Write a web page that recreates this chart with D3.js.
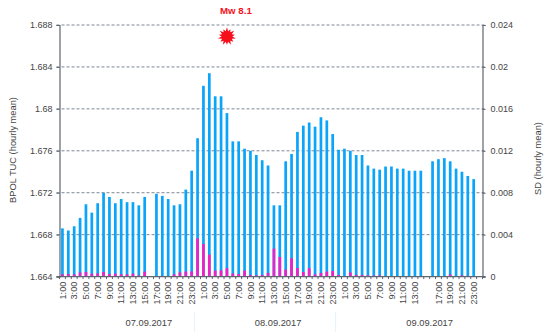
<!DOCTYPE html>
<html>
<head>
<meta charset="utf-8">
<script src="https://cdn.jsdelivr.net/npm/d3@7"></script>
<style>
  html, body { margin: 0; padding: 0; background: #fff; }
  text { font-family: "Liberation Sans", Arial, sans-serif; fill: #444; }
</style>
</head>
<body>
<script>
const hourLabels = [
  "1:00","2:00","3:00","4:00","5:00","6:00","7:00","8:00","9:00","10:00","11:00","12:00","13:00","14:00","15:00","16:00","17:00","18:00","19:00","20:00","21:00","22:00","23:00","0:00",
  "1:00","2:00","3:00","4:00","5:00","6:00","7:00","8:00","9:00","10:00","11:00","12:00","13:00","14:00","15:00","16:00","17:00","18:00","19:00","20:00","21:00","22:00","23:00","0:00",
  "1:00","2:00","3:00","4:00","5:00","6:00","7:00","8:00","9:00","10:00","11:00","12:00","13:00","14:00","15:00","16:00","17:00","18:00","19:00","20:00","21:00","22:00","23:00","0:00"
];
// null = no measurement that hour
const tucValues = [
  1.6686,1.6684,1.6688,1.6696,1.6709,1.6701,1.6710,1.6720,1.6716,1.6710,1.6714,1.6711,1.6711,1.6708,1.6716,null,1.6719,1.6717,1.6714,1.6708,1.6709,1.6723,1.6741,1.6772,
  1.6822,1.6834,1.6812,1.6812,1.6796,1.6769,1.6769,1.6762,1.6760,1.6756,1.6751,1.6746,1.6708,1.6708,1.6750,1.6757,1.6778,1.6784,1.6787,1.6783,1.6792,1.6789,1.6776,1.6761,
  1.6762,1.6760,1.6756,1.6756,1.6746,1.6743,1.6742,1.6745,1.6745,1.6743,1.6743,1.6741,1.6741,1.6741,null,1.6750,1.6752,1.6753,1.6750,1.6743,1.6740,1.6736,1.6733,null
];
const sdValues = [
  .00022,.00025,.00022,.0004,.00044,.00028,.00031,.00044,.00025,.00028,.00022,.00022,.00028,.00012,.00048,0,.00006,.00006,.00002,.00022,.0004,.00048,.0005,.00365,
  .0031,.0021,.00057,.0006,.0008,.0003,.00025,.00057,.00016,.00012,.00016,.00035,.00267,.00187,.00067,.00175,.00083,.00044,.0008,.00022,.00035,.00048,.00054,.00016,
  .00005,.0004,.00016,.00016,.00012,.0001,.00012,.00005,.00003,.00003,.00002,.00005,.00002,.00002,0,.00005,.00005,.00005,.0002,.00005,.00012,.00008,.00005,0
];
const tucTicks = [1.664,1.668,1.672,1.676,1.68,1.684,1.688];
const sdTicks = [0,.004,.008,.012,.016,.02,.024];
const hiddenHourLabels = [62];
const dateLabels = ["07.09.2017","08.09.2017","09.09.2017"];
const dateSlots = [15.2,37.2,63];
const daySeparators = [23,47];
const quakeSlot = 28;
const quakeTuc = 1.6869;

const width = 550;
const height = 332;
const margin = { left: 59.5, right: 67.5, top: 25, bottom: 55.4 };
const slots = d3.range(hourLabels.length);

const svg = d3.select("body").append("svg")
  .attr("width", width)
  .attr("height", height)
  .style("display", "block");

const x = d3.scaleBand().domain(slots).range([margin.left, width - margin.right]).paddingInner(0.54).paddingOuter(0.27);
const yTuc = d3.scaleLinear().domain([1.664, 1.688]).range([height - margin.bottom, margin.top]);
const ySd = d3.scaleLinear().domain([0, 0.024]).range([height - margin.bottom, margin.top]);
const xMid = i => x(i) + x.bandwidth() / 2;
const slotEdge = i => margin.left + i * x.step();

// dashed grid
svg.append("g")
  .selectAll("line")
  .data(tucTicks.slice(1))
  .enter()
  .append("line")
  .attr("x1", margin.left - 3)
  .attr("x2", width - margin.right + 3)
  .attr("y1", d => yTuc(d))
  .attr("y2", d => yTuc(d))
  .attr("stroke", "#7d8794")
  .attr("stroke-width", 1)
  .attr("stroke-dasharray", "3,2");

// bars
svg.append("g")
  .selectAll("rect")
  .data(slots.filter(i => tucValues[i] !== null))
  .enter()
  .append("rect")
  .attr("x", i => x(i))
  .attr("width", x.bandwidth())
  .attr("y", i => yTuc(tucValues[i]))
  .attr("height", i => yTuc(1.664) - yTuc(tucValues[i]))
  .attr("fill", "#0aa5fa");

svg.append("g")
  .selectAll("rect")
  .data(slots)
  .enter()
  .append("rect")
  .attr("x", i => x(i))
  .attr("width", x.bandwidth())
  .attr("y", i => ySd(sdValues[i]))
  .attr("height", i => ySd(0) - ySd(sdValues[i]))
  .attr("fill", "#ee22c4");

// axes
const axisColor = "#5f6670";
const leftAxis = svg.append("g")
  .attr("transform", `translate(${margin.left},0)`)
  .call(d3.axisLeft(yTuc).tickValues(tucTicks).tickSize(3).tickFormat(d3.format("")));
const rightAxis = svg.append("g")
  .attr("transform", `translate(${width - margin.right},0)`)
  .call(d3.axisRight(ySd).tickValues(sdTicks).tickSize(3).tickFormat(d3.format("")));

[leftAxis, rightAxis].forEach(a => {
  a.select(".domain").attr("stroke", axisColor).attr("stroke-width", 1.2);
  a.selectAll("line").attr("stroke", axisColor);
  a.selectAll("text").style("font-size", "9px").style("font-family", "Liberation Sans").attr("fill", "#444");
});
leftAxis.selectAll("text").attr("x", -7);
rightAxis.selectAll("text").attr("x", 8);

// bottom axis line and ticks between the hours
const base = svg.append("g");
base.append("line")
  .attr("x1", margin.left - 3)
  .attr("x2", width - margin.right + 3)
  .attr("y1", yTuc(1.664))
  .attr("y2", yTuc(1.664))
  .attr("stroke", axisColor)
  .attr("stroke-width", 1.2);
base.selectAll(".hour-tick")
  .data(d3.range(hourLabels.length + 1))
  .enter()
  .append("line")
  .attr("class", "hour-tick")
  .attr("x1", i => slotEdge(i))
  .attr("x2", i => slotEdge(i))
  .attr("y1", yTuc(1.664))
  .attr("y2", yTuc(1.664) + 2.5)
  .attr("stroke", axisColor);

base.selectAll(".hour-label")
  .data(slots.filter(i => i % 2 === 0 && !hiddenHourLabels.includes(i)))
  .enter()
  .append("text")
  .attr("class", "hour-label")
  .attr("transform", i => `translate(${xMid(i) + 3.2},${yTuc(1.664) + 5}) rotate(-90)`)
  .attr("text-anchor", "end")
  .style("font-size", "9.2px")
  .text(i => hourLabels[i]);

svg.append("g")
  .selectAll("line")
  .data(daySeparators)
  .enter()
  .append("line")
  .attr("x1", i => slotEdge(i))
  .attr("x2", i => slotEdge(i))
  .attr("y1", 312)
  .attr("y2", 332)
  .attr("stroke", "#e6f3fa");

svg.append("g")
  .selectAll("text")
  .data(dateLabels)
  .enter()
  .append("text")
  .attr("x", (d, i) => slotEdge(dateSlots[i]))
  .attr("y", 326)
  .attr("text-anchor", "middle")
  .style("font-size", "9.3px")
  .text(d => d);

// axis titles
svg.append("text")
  .attr("transform", "translate(16,150) rotate(-90)")
  .attr("text-anchor", "middle")
  .style("font-size", "9.3px")
  .text("BPOL TUC (hourly mean)");
svg.append("text")
  .attr("transform", "translate(541,158.5) rotate(-90)")
  .attr("text-anchor", "middle")
  .style("font-size", "9.3px")
  .text("SD (hourly mean)");

// earthquake marker
const spikes = 14;
const star = d3.lineRadial().curve(d3.curveLinearClosed)(
  d3.range(spikes * 2).map(i => [i * Math.PI / spikes, i % 2 ? 5.4 : (i % 4 ? 8.2 : 9.2)])
);
svg.append("path")
  .attr("d", star)
  .attr("transform", `translate(${xMid(quakeSlot)},${yTuc(quakeTuc)})`)
  .attr("fill", "#f5101c");
svg.append("text")
  .attr("x", xMid(quakeSlot) + 9)
  .attr("y", 14)
  .attr("text-anchor", "middle")
  .style("font-size", "9.7px")
  .style("font-weight", "bold")
  .style("fill", "#f5101c")
  .text("Mw 8.1");
</script>
</body>
</html>
